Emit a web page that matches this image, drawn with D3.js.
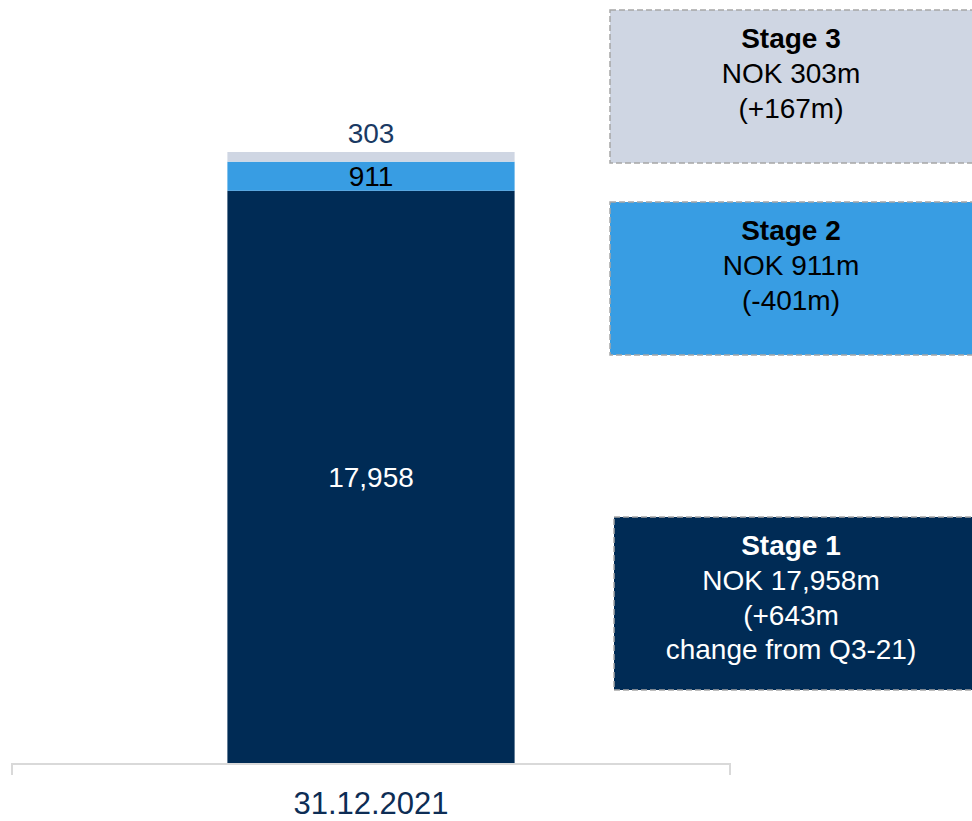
<!DOCTYPE html>
<html>
<head>
<meta charset="utf-8">
<script src="https://cdn.jsdelivr.net/npm/d3@7"></script>
<style>
  html, body { margin: 0; padding: 0; background: #fff; }
  svg { display: block; font-family: "Liberation Sans", Arial, sans-serif; }
</style>
</head>
<body>
<svg id="chart" width="972" height="821"></svg>
<script>
// Loan loss exposure by stage (NOK m)
const categories = ["31.12.2021"];
const stages = ["Stage 1", "Stage 2", "Stage 3"];
const values = [17958, 911, 303];
const changes = ["+643m", "-401m", "+167m"];
const stageColors = ["#002b55", "#389de3", "#cfd6e3"];
const labelColors = ["#ffffff", "#000000", "#1a3a63"];

const svg = d3.select("#chart");

const x = d3.scaleBand().domain(categories).range([12, 730]).paddingInner(0).paddingOuter(0.75);
const total = d3.sum(values);
const y = d3.scaleLinear().domain([0, total]).range([764, 152]);

// Stack the segments
let acc = 0;
const segs = values.map((v, i) => {
  const s = { stage: stages[i], v, y0: acc, y1: acc + v, i };
  acc += v;
  return s;
});

const bx = x(categories[0]);
const bw = x.bandwidth();

svg.append("g").selectAll("rect").data(segs).join("rect")
  .attr("x", bx).attr("width", bw)
  .attr("y", d => y(d.y1))
  .attr("height", d => y(d.y0) - y(d.y1))
  .attr("fill", d => stageColors[d.i]);

// Segment labels
const fmt = d3.format(",");
const FS = 28;
const lbl = svg.append("g").attr("font-size", FS).attr("text-anchor", "middle");
lbl.append("text").attr("x", bx + bw / 2).attr("y", (y(segs[0].y0) + y(segs[0].y1)) / 2 + 10)
  .attr("fill", labelColors[0]).text(fmt(values[0]));
lbl.append("text").attr("x", bx + bw / 2).attr("y", (y(segs[1].y0) + y(segs[1].y1)) / 2 + 10)
  .attr("fill", labelColors[1]).text(fmt(values[1]));
lbl.append("text").attr("x", bx + bw / 2).attr("y", y(segs[2].y1) - 9)
  .attr("fill", labelColors[2]).text(fmt(values[2]));

// Category axis
const axisG = svg.append("g");
axisG.append("path")
  .attr("d", "M12,775V764H730V775")
  .attr("fill", "none").attr("stroke", "#d9d9d9").attr("stroke-width", 2);
axisG.append("text").attr("x", bx + bw / 2).attr("y", 814)
  .attr("text-anchor", "middle").attr("font-size", 31).attr("fill", "#0d2d55")
  .text(categories[0]);

// Stage callout boxes
const boxes = [
  { i: 2, x: 610, y: 10, h: 153, lines: ["NOK " + fmt(values[2]) + "m", "(" + changes[2] + ")"] },
  { i: 1, x: 610, y: 202, h: 153, lines: ["NOK " + fmt(values[1]) + "m", "(" + changes[1] + ")"] },
  { i: 0, x: 614, y: 517, h: 173, lines: ["NOK " + fmt(values[0]) + "m", "(" + changes[0], "change from Q3-21)"] }
];

const bg = svg.append("g");
boxes.forEach(b => {
  const g = bg.append("g");
  g.append("rect").attr("x", b.x).attr("y", b.y).attr("width", 972 - b.x + 4).attr("height", b.h)
    .attr("fill", stageColors[b.i]).attr("stroke", "#a6a6a6").attr("stroke-width", 1.5)
    .attr("stroke-dasharray", "6,3");
  const tc = b.i === 0 ? "#ffffff" : "#000000";
  const cx = 791;
  g.append("text").attr("x", cx).attr("y", b.y + 38).attr("text-anchor", "middle")
    .attr("font-size", FS).attr("font-weight", "bold").attr("fill", tc).text(stages[b.i]);
  b.lines.forEach((t, k) => {
    g.append("text").attr("x", cx).attr("y", b.y + 73 + k * 34.5).attr("text-anchor", "middle")
      .attr("font-size", FS).attr("fill", tc).text(t);
  });
});
</script>
</body>
</html>
